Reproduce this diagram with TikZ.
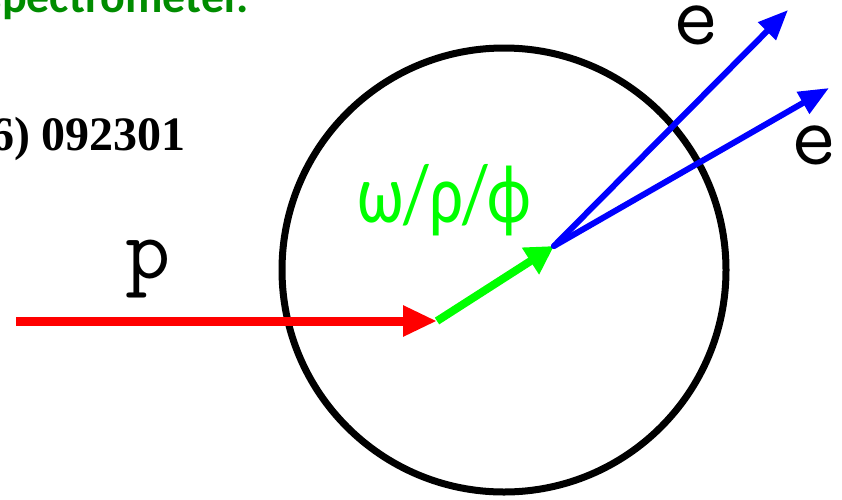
\documentclass[tikz,border=0pt]{standalone}
\usepackage{fontspec}
\setmainfont{Liberation Serif}
\newfontfamily\calfont{Carlito}
\usetikzlibrary{arrows.meta}
\definecolor{titlegreen}{RGB}{0,140,0}
\definecolor{mesongreen}{RGB}{0,255,0}
\definecolor{protonred}{RGB}{255,0,0}
\definecolor{elecblue}{RGB}{0,0,255}
\tikzset{
  labeltext/.style={inner sep=0pt, outer sep=0pt},
  track/.style={line cap=butt},
  particle/.style={labeltext, anchor=base, font=\ttfamily\fontsize{88}{90}\selectfont},
}
\begin{document}
\begin{tikzpicture}[x=1pt,y=-1pt]
\useasboundingbox (0,0) rectangle (842,499);
\clip (0,0) rectangle (842,499);
% detector circle
\node[draw, circle, line width=7pt, minimum size=444pt, inner sep=0pt] (det) at (504,270) {};
% texts
\node[labeltext, anchor=base east, font=\calfont\bfseries\fontsize{46}{50}\selectfont, text=titlegreen] (title) at (249,12) {spectrometer.};
\node[labeltext, anchor=base east, font=\bfseries\fontsize{48}{52}\selectfont] (ref) at (186,150) {(2006) 092301};
\node[particle] (plabel) at (148,278) {p};
\node[particle] (e1label) at (696,44) {e};
\node[particle] (e2label) at (814,164) {e};
\node[labeltext, anchor=base west, font=\calfont\fontsize{74}{90}\selectfont, text=mesongreen] (meson) at (357,222) {\scalebox{0.9}[1.13]{ω/ρ/ϕ}};
% track points
\coordinate (pstart) at (16,321);
\coordinate (v1) at (437,321);
\coordinate (v2) at (554,246);
\coordinate (e1tip) at (788,10);
\coordinate (e2tip) at (829,88);
% tracks
\draw[track, protonred, line width=9pt, -{Triangle[length=34pt,width=29pt]}] (pstart) -- (v1);
\draw[track, mesongreen, line width=8pt, -{Triangle[length=28pt,width=30pt]}] (v1) -- (v2);
\draw[elecblue, line width=6pt, line cap=round, -{Triangle[length=30pt,width=24pt]}] (v2) -- (e1tip);
\draw[elecblue, line width=6pt, line cap=round, -{Triangle[length=30pt,width=24pt]}] (v2) -- (e2tip);
\end{tikzpicture}
\end{document}
